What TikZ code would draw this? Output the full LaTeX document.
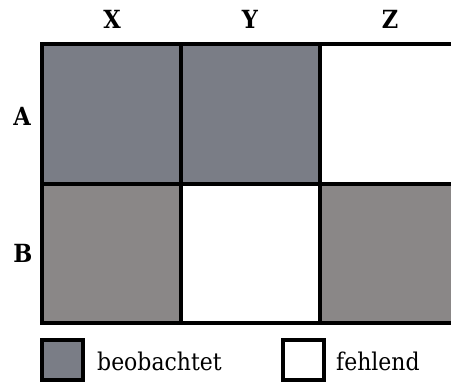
\documentclass[tikz,border=0pt]{standalone}
\usepackage{fontspec}
\setmainfont{DejaVu Serif Condensed}
\definecolor{obsblue}{HTML}{7A7D86}
\definecolor{obsgray}{HTML}{8A8787}
\begin{document}
\begin{tikzpicture}[x=1pt,y=-1pt,
  cell/.style={draw=black,line width=3.5pt},
  head/.style={font=\fontsize{25}{25}\selectfont\bfseries,inner sep=0pt},
  legtext/.style={font=\fontsize{24.4}{24.4}\selectfont,anchor=base west,inner sep=0pt}]
\useasboundingbox (0,0) rectangle (451,383);
\clip (0,0) rectangle (451,383);
% cells
\fill[obsblue] (42,44) rectangle (181,184);
\fill[obsblue] (181,44) rectangle (320,184);
\fill[obsgray] (42,184) rectangle (181,323);
\fill[obsgray] (320,184) rectangle (460,323);
% grid lines
\draw[cell] (42,44) rectangle (460,323);
\draw[cell] (42,184) -- (460,184);
\draw[cell] (181,44) -- (181,323);
\draw[cell] (320,44) -- (320,323);
% headings
\node[head] (hx) at (112,19) {X};
\node[head] (hy) at (250,19) {Y};
\node[head] (hz) at (390,19) {Z};
\node[head] (ha) at (22,116) {A};
\node[head] (hb) at (23,253) {B};
% legend
\filldraw[cell,fill=obsblue] (42,340) rectangle (83,380);
\node[legtext] (lobs) at (97,370) {beobachtet};
\draw[cell,fill=white] (283,340) rectangle (324,380);
\node[legtext] (lmis) at (336,370) {fehlend};
\end{tikzpicture}
\end{document}
